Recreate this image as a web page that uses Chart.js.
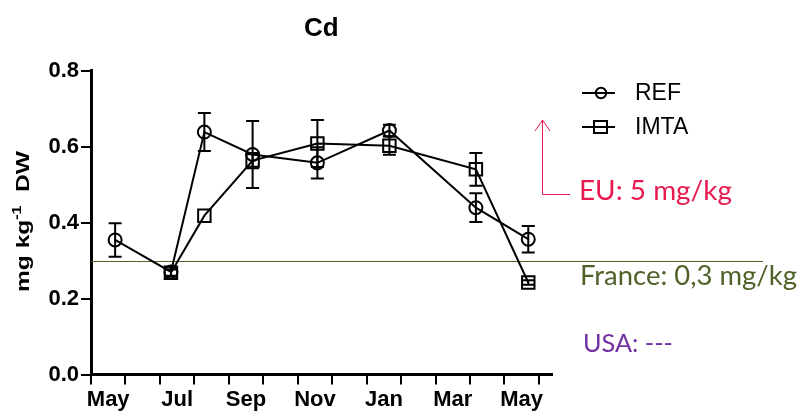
<!DOCTYPE html>
<html>
<head>
<meta charset="utf-8">
<title>Cd</title>
<script src="https://cdn.jsdelivr.net/npm/chart.js@4/dist/chart.umd.min.js"></script>
<style>
  html, body { margin: 0; padding: 0; background: #fff; }
  #wrap { width: 800px; height: 411px; position: relative; }
  canvas { display: block; }
</style>
</head>
<body>
<div id="wrap"><canvas id="chart" width="800" height="411"></canvas></div>
<script>
// Month axis: one unit per month, May to May
const monthNames = ['May', 'Jun', 'Jul', 'Aug', 'Sep', 'Oct', 'Nov', 'Dec', 'Jan', 'Feb', 'Mar', 'Apr', 'May'];
const monthTicks = [0, 1, 2, 3, 4, 5, 6, 7, 8, 9, 10, 11, 12, 13];
const labelledMonths = [0, 2, 4, 6, 8, 10, 12];

// Sampling times (months from start of May)
const sampleTimes = [0.70, 2.32, 3.29, 4.69, 6.57, 8.66, 11.17, 12.69];

// Cd concentration, mg kg-1 DW (mean and error)
const refMeans  = [0.354, 0.270, 0.638, 0.579, 0.557, 0.642, 0.439, 0.356];
const refErrors = [0.044, 0.012, 0.050, 0.088, 0.041, 0.015, 0.038, 0.035];
const imtaMeans  = [null, 0.268, 0.418, 0.563, 0.608, 0.602, 0.540, 0.242];
const imtaErrors = [null, 0.008, 0.000, 0.020, 0.062, 0.024, 0.043, 0.006];

// Regulatory limits
const franceLimit = 0.3;
const limitTexts = {
  eu: 'EU: 5 mg/kg',
  france: 'France: 0,3 mg/kg',
  usa: 'USA: ---'
};

const yTicks = [0, 0.2, 0.4, 0.6, 0.8];

const toPoints = (xs, ys) => xs.map((x, i) => ({ x: x, y: ys[i] }));

const AXIS_FONT = '"Liberation Sans", Arial, sans-serif';
const NOTE_FONT = 'Lato, "Open Sans", sans-serif';
const COLORS = { eu: '#e8194f', france: '#4f6228', usa: '#7030a0' };

// white page behind the chart
const backdrop = {
  id: 'backdrop',
  beforeDraw(chart) {
    const ctx = chart.ctx;
    ctx.save();
    ctx.fillStyle = '#fff';
    ctx.fillRect(0, 0, chart.width, chart.height);
    ctx.restore();
  }
};

// France limit line, running past the plot into the notes column
const limitLine = {
  id: 'limitLine',
  beforeDatasetsDraw(chart) {
    const { ctx, chartArea } = chart;
    const y = Math.round(chart.scales.y.getPixelForValue(franceLimit)) + 0.5;
    ctx.save();
    ctx.strokeStyle = COLORS.france;
    ctx.lineWidth = 1.2;
    ctx.beginPath();
    ctx.moveTo(chartArea.left, y);
    ctx.lineTo(763, y);
    ctx.stroke();
    ctx.restore();
  }
};

// vertical error bars with caps
const errorBars = {
  id: 'errorBars',
  afterDatasetsDraw(chart) {
    const { ctx } = chart;
    const xs = chart.scales.x, ys = chart.scales.y;
    const cap = 6.5;
    ctx.save();
    ctx.strokeStyle = '#000';
    ctx.lineWidth = 2;
    chart.data.datasets.forEach(ds => {
      const errs = ds.errors || [];
      ds.data.forEach((p, i) => {
        const e = errs[i];
        if (p.y == null || !e) return;
        const x = xs.getPixelForValue(p.x);
        const yt = ys.getPixelForValue(p.y + e);
        const yb = ys.getPixelForValue(p.y - e);
        ctx.beginPath();
        ctx.moveTo(x, yt); ctx.lineTo(x, yb);
        ctx.moveTo(x - cap, yt); ctx.lineTo(x + cap, yt);
        ctx.moveTo(x - cap, yb); ctx.lineTo(x + cap, yb);
        ctx.stroke();
      });
    });
    ctx.restore();
  }
};

// font size that makes a string span a given width
function fitSize(ctx, text, weight, family, width) {
  ctx.font = weight + ' 20px ' + family;
  return 20 * width / ctx.measureText(text).width;
}

// title, axis title, legend and limit notes
const decorations = {
  id: 'decorations',
  afterDraw(chart) {
    const { ctx, chartArea } = chart;
    ctx.save();

    // title
    ctx.fillStyle = '#000';
    ctx.font = 'bold 26px ' + AXIS_FONT;
    ctx.textAlign = 'center';
    ctx.textBaseline = 'alphabetic';
    ctx.fillText('Cd', (chartArea.left + chartArea.right) / 2, 36);

    // y axis title with superscript, drawn rotated
    ctx.save();
    ctx.translate(29, 292);
    ctx.rotate(-Math.PI / 2);
    const main = 'bold 18.5px ' + AXIS_FONT, sup = 'bold 12px ' + AXIS_FONT;
    ctx.font = main; const w1 = ctx.measureText('mg kg').width;
    ctx.font = sup;  const w2 = ctx.measureText('-1').width;
    ctx.font = main; const w3 = ctx.measureText('  DW').width;
    const stretch = 141 / (w1 + w2 + w3);
    ctx.scale(stretch, 1);
    ctx.textAlign = 'left';
    ctx.font = main; ctx.fillText('mg kg', 0, 0);
    ctx.font = sup;  ctx.fillText('-1', w1, -8);
    ctx.font = main; ctx.fillText('  DW', w1 + w2, 0);
    ctx.restore();

    // legend
    const legendRows = [
      { label: chart.data.datasets[0].label, style: 'circle', y: 93 },
      { label: chart.data.datasets[1].label, style: 'rect', y: 127 }
    ];
    legendRows.forEach(row => {
      ctx.strokeStyle = '#000';
      ctx.lineWidth = 2;
      ctx.beginPath();
      ctx.moveTo(582, row.y); ctx.lineTo(615, row.y);
      ctx.stroke();
      ctx.beginPath();
      if (row.style === 'circle') ctx.arc(601, row.y, 5.2, 0, Math.PI * 2);
      else ctx.rect(594, row.y - 6, 13, 12);
      ctx.stroke();
      ctx.fillStyle = '#000';
      ctx.font = '23px ' + AXIS_FONT;
      ctx.textAlign = 'left';
      ctx.textBaseline = 'middle';
      ctx.fillText(row.label, 635, row.y + 1);
    });

    // EU limit: arrow pointing up out of the scale
    ctx.strokeStyle = COLORS.eu;
    ctx.lineWidth = 1;
    ctx.beginPath();
    ctx.moveTo(570, 194.5); ctx.lineTo(542.5, 194.5); ctx.lineTo(542.5, 120);
    ctx.moveTo(535, 131); ctx.lineTo(542.5, 120); ctx.lineTo(550, 131);
    ctx.stroke();

    ctx.textAlign = 'left';
    ctx.textBaseline = 'alphabetic';
    const notes = [
      { text: limitTexts.eu, color: COLORS.eu, x: 579, y: 200, w: 153 },
      { text: limitTexts.france, color: COLORS.france, x: 580, y: 285, w: 217 },
      { text: limitTexts.usa, color: COLORS.usa, x: 583, y: 352, w: 90 }
    ];
    notes.forEach(n => {
      const size = fitSize(ctx, n.text, 'normal', NOTE_FONT, n.w);
      ctx.font = size.toFixed(2) + 'px ' + NOTE_FONT;
      ctx.fillStyle = n.color;
      ctx.fillText(n.text, n.x, n.y);
    });

    ctx.restore();
  }
};

new Chart(document.getElementById('chart'), {
  type: 'line',
  data: {
    datasets: [
      {
        label: 'REF',
        data: toPoints(sampleTimes, refMeans),
        errors: refErrors,
        borderColor: '#000',
        borderWidth: 2,
        pointStyle: 'circle',
        pointRadius: 6.5,
        pointBorderWidth: 2,
        pointBorderColor: '#000',
        pointBackgroundColor: 'rgba(0,0,0,0)',
        tension: 0,
        fill: false
      },
      {
        label: 'IMTA',
        data: toPoints(sampleTimes, imtaMeans),
        errors: imtaErrors,
        borderColor: '#000',
        borderWidth: 2,
        pointStyle: 'rect',
        pointRadius: 8.8,
        pointBorderWidth: 2,
        pointBorderColor: '#000',
        pointBackgroundColor: 'rgba(0,0,0,0)',
        tension: 0,
        fill: false
      }
    ]
  },
  options: {
    responsive: false,
    animation: false,
    devicePixelRatio: 1,
    clip: false,
    layout: { padding: { top: 70.5, right: 248.3, left: 0, bottom: 0 } },
    plugins: {
      legend: { display: false },
      title: { display: false },
      tooltip: { enabled: false }
    },
    scales: {
      x: {
        type: 'linear',
        min: 0,
        max: 13.37,
        bounds: 'data',
        afterBuildTicks(axis) { axis.ticks = monthTicks.map(v => ({ value: v })); },
        afterFit(axis) { axis.height = 36.5; },
        ticks: {
          autoSkip: false,
          maxRotation: 0,
          labelOffset: 17.2,
          padding: 2,
          color: '#000',
          font: { family: AXIS_FONT, size: 22, weight: 'bold' },
          callback: v => labelledMonths.includes(v) ? monthNames[v] : ''
        },
        grid: { drawOnChartArea: false, drawTicks: true, tickLength: 10, color: '#000', lineWidth: 2 },
        border: { color: '#000', width: 3 }
      },
      y: {
        min: 0,
        max: 0.8,
        afterBuildTicks(axis) { axis.ticks = yTicks.map(v => ({ value: v })); },
        afterFit(axis) { axis.width = 91; },
        ticks: {
          padding: 2,
          color: '#000',
          font: { family: AXIS_FONT, size: 22, weight: 'bold' },
          callback: v => Number(v).toFixed(1)
        },
        grid: { drawOnChartArea: false, drawTicks: true, tickLength: 10, color: '#000', lineWidth: 2 },
        border: { color: '#000', width: 3 }
      }
    }
  },
  plugins: [backdrop, limitLine, errorBars, decorations]
});
</script>
</body>
</html>
